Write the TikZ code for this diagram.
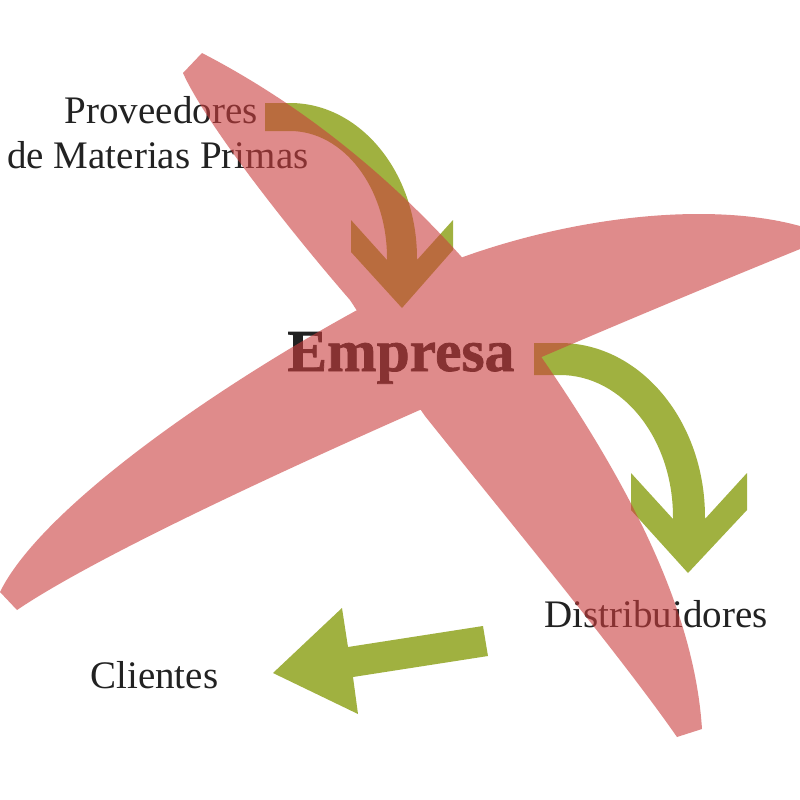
\documentclass[tikz,border=0pt]{standalone}
\usepackage{fontspec}
\setmainfont{Liberation Serif}
\newfontfamily\empfont[FakeBold=1.2]{Liberation Serif Bold}
\definecolor{pinkx}{RGB}{203,62,62}
\definecolor{leaf}{RGB}{160,177,64}
\definecolor{ink}{RGB}{34,34,34}
\begin{document}
\begin{tikzpicture}[x=0.5pt,y=-0.5pt,
  lbl/.style={inner sep=0pt, text=ink, font=\fontsize{19.5}{23}\selectfont},
  biglbl/.style={inner sep=0pt, text=ink, font=\empfont\fontsize{29.75}{34}\selectfont},
  arrowfill/.style={fill=leaf},
  blade/.style={fill=pinkx, fill opacity=0.6}]
\fill[white] (0,0) rectangle (800,800);
\useasboundingbox (0,0) rectangle (800,800);
% labels
\node[lbl, anchor=base east] (prov) at (258,123) {Proveedores};
\node[lbl, anchor=base west] (mat) at (7,168) {de Materias Primas};
\node[biglbl, anchor=base west] (emp) at (287,371) {Empresa};
\node[lbl, anchor=base west] (dist) at (544,627) {Distribuidores};
\node[lbl, anchor=base west] (cli) at (90,688) {Clientes};
% arrow: proveedores -> empresa
\fill[arrowfill] (265,103) -- (290,103) arc[start angle=-90,end angle=0,x radius=127,y radius=155]
  -- (417,260) -- (453,220) -- (453,250) -- (402,308) -- (351,252) -- (351,220) -- (387,260) -- (387,258)
  arc[start angle=0,end angle=-90,x radius=97,y radius=127] -- (265,131) -- cycle;
% arrow: empresa -> distribuidores
\fill[arrowfill] (534,343) -- (560,343) arc[start angle=-90,end angle=0,x radius=145,y radius=174]
  -- (705,519) -- (747,473) -- (747,510) -- (688,573) -- (631,510) -- (631,473) -- (673,519) -- (673,517)
  arc[start angle=0,end angle=-90,x radius=113,y radius=142] -- (534,375) -- cycle;
% arrow: distribuidores -> clientes
\fill[arrowfill] (488,656) -- (353,677) -- (358,714) -- (273,673) -- (342,608) -- (348,647) -- (483,626) -- cycle;
% pink X
\begin{scope}
\clip (0,0) rectangle (800,800);
\fill[blade]
  (183,73) .. controls (205,122) and (285,225) .. (350,300)
  .. controls (375,338) and (400,380) .. (425,416)
  .. controls (500,510) and (620,655) .. (677,737)
  -- (702,729) .. controls (695,620) and (640,500) .. (542,358)
  .. controls (480,270) and (370,140) .. (202,53) -- cycle
  (17,610) .. controls (150,520) and (600,330) .. (810,245)
  -- (810,229) .. controls (720,200) and (580,215) .. (463,257)
  .. controls (300,330) and (50,490) .. (0,592) -- cycle;
\end{scope}
\end{tikzpicture}
\end{document}
